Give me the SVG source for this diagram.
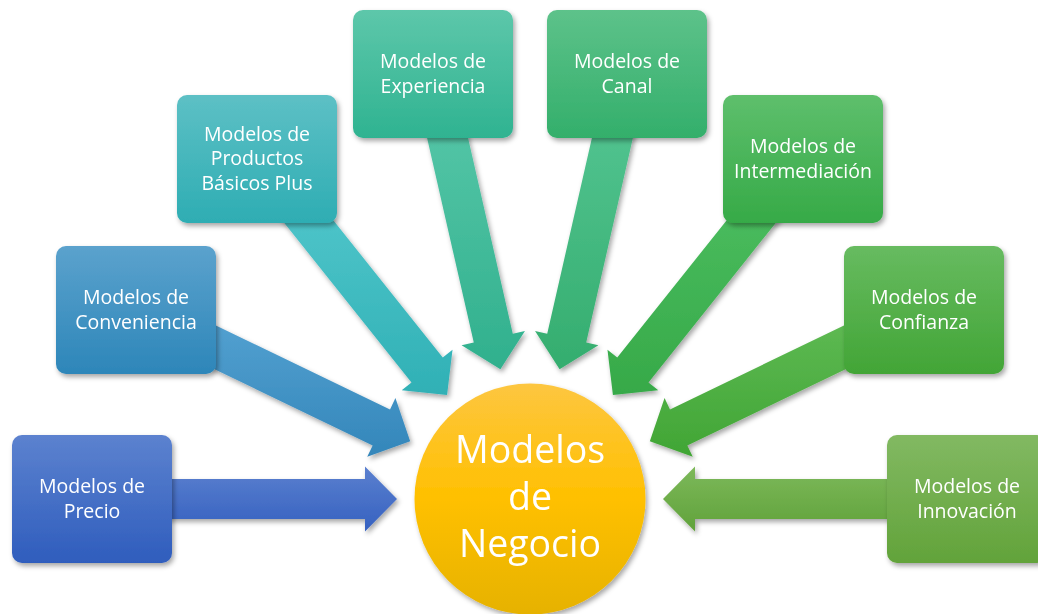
<svg xmlns="http://www.w3.org/2000/svg" width="1038" height="614" viewBox="0 0 1038 614">
<style>
.t{font-family:"Open Sans","Liberation Sans",sans-serif;font-size:19.5px;fill:#ffffff;text-anchor:middle}
.big{font-family:"Open Sans","Liberation Sans",sans-serif;font-size:37.5px;fill:#ffffff;text-anchor:middle}
</style>
<defs>
<filter id="sh" x="-20%" y="-20%" width="140%" height="140%">
<feDropShadow dx="2" dy="3" stdDeviation="2.5" flood-color="#000" flood-opacity="0.35"/>
</filter>
<polygon id="arr" points="0,0 -32,-32.5 -32,-20 -300,-20 -300,20 -32,20 -32,32.5"/>
<linearGradient id="b0" x1="0" y1="0" x2="0" y2="1"><stop offset="0" stop-color="#5c82cf"/><stop offset="1" stop-color="#2f5dbd"/></linearGradient>
<linearGradient id="b1" x1="0" y1="0" x2="0" y2="1"><stop offset="0" stop-color="#5ba2cd"/><stop offset="1" stop-color="#2d86b9"/></linearGradient>
<linearGradient id="b2" x1="0" y1="0" x2="0" y2="1"><stop offset="0" stop-color="#5dc0c5"/><stop offset="1" stop-color="#2eadb3"/></linearGradient>
<linearGradient id="b3" x1="0" y1="0" x2="0" y2="1"><stop offset="0" stop-color="#5dc7aa"/><stop offset="1" stop-color="#2fb391"/></linearGradient>
<linearGradient id="b4" x1="0" y1="0" x2="0" y2="1"><stop offset="0" stop-color="#5dc28a"/><stop offset="1" stop-color="#33af6b"/></linearGradient>
<linearGradient id="b5" x1="0" y1="0" x2="0" y2="1"><stop offset="0" stop-color="#5ebf6c"/><stop offset="1" stop-color="#36aa47"/></linearGradient>
<linearGradient id="b6" x1="0" y1="0" x2="0" y2="1"><stop offset="0" stop-color="#67bb60"/><stop offset="1" stop-color="#42a536"/></linearGradient>
<linearGradient id="b7" x1="0" y1="0" x2="0" y2="1"><stop offset="0" stop-color="#82b962"/><stop offset="1" stop-color="#62a33a"/></linearGradient>
<linearGradient id="a0" gradientUnits="userSpaceOnUse" x1="0" y1="-33" x2="0" y2="33"><stop offset="0" stop-color="#5b80cf"/><stop offset="1" stop-color="#3561c0"/></linearGradient>
<linearGradient id="a1" gradientUnits="userSpaceOnUse" x1="0" y1="-111" x2="0" y2="16" gradientTransform="rotate(-25.714)"><stop offset="0" stop-color="#519fcf"/><stop offset="1" stop-color="#3386ba"/></linearGradient>
<linearGradient id="a2" gradientUnits="userSpaceOnUse" x1="0" y1="-172" x2="0" y2="3" gradientTransform="rotate(-51.429)"><stop offset="0" stop-color="#4cc3c8"/><stop offset="1" stop-color="#2fb0b5"/></linearGradient>
<linearGradient id="a3" gradientUnits="userSpaceOnUse" x1="0" y1="-232" x2="0" y2="1" gradientTransform="rotate(-77.143)"><stop offset="0" stop-color="#52c4a5"/><stop offset="1" stop-color="#30b08d"/></linearGradient>
<linearGradient id="a4" gradientUnits="userSpaceOnUse" x1="0" y1="-232" x2="0" y2="1" gradientTransform="rotate(-102.857)"><stop offset="0" stop-color="#50c28e"/><stop offset="1" stop-color="#34ad6e"/></linearGradient>
<linearGradient id="a5" gradientUnits="userSpaceOnUse" x1="0" y1="-172" x2="0" y2="3" gradientTransform="rotate(-128.571)"><stop offset="0" stop-color="#48ba5c"/><stop offset="1" stop-color="#36a948"/></linearGradient>
<linearGradient id="a6" gradientUnits="userSpaceOnUse" x1="0" y1="-111" x2="0" y2="16" gradientTransform="rotate(-154.286)"><stop offset="0" stop-color="#5cb851"/><stop offset="1" stop-color="#40a534"/></linearGradient>
<linearGradient id="a7" gradientUnits="userSpaceOnUse" x1="0" y1="-33" x2="0" y2="33" gradientTransform="rotate(-180)"><stop offset="0" stop-color="#7db95b"/><stop offset="1" stop-color="#60a23a"/></linearGradient>
<linearGradient id="gc" x1="0" y1="0" x2="0" y2="1"><stop offset="0" stop-color="#fdc640"/><stop offset="0.5" stop-color="#ffc000"/><stop offset="1" stop-color="#e6b200"/></linearGradient>
</defs>
<rect width="1038" height="614" fill="#ffffff"/>

<g id="connectors">
<g filter="url(#sh)"><use href="#arr" fill="url(#a0)" transform="translate(397,499)"/></g>
<g filter="url(#sh)"><use href="#arr" fill="url(#a1)" transform="translate(410.17,441.29) rotate(25.714)"/></g>
<g filter="url(#sh)"><use href="#arr" fill="url(#a2)" transform="translate(447.08,395.02) rotate(51.429)"/></g>
<g filter="url(#sh)"><use href="#arr" fill="url(#a3)" transform="translate(500.4,369.33) rotate(77.143)"/></g>
<g filter="url(#sh)"><use href="#arr" fill="url(#a4)" transform="translate(559.6,369.33) rotate(102.857)"/></g>
<g filter="url(#sh)"><use href="#arr" fill="url(#a5)" transform="translate(612.92,395.02) rotate(128.571)"/></g>
<g filter="url(#sh)"><use href="#arr" fill="url(#a6)" transform="translate(649.83,441.29) rotate(154.286)"/></g>
<g filter="url(#sh)"><use href="#arr" fill="url(#a7)" transform="translate(663,499) rotate(180)"/></g>
</g>

<g id="precio" filter="url(#sh)">
<rect x="12" y="435" width="160" height="128" rx="10" fill="url(#b0)"/>
<text class="t" x="92" y="493">Modelos de</text>
<text class="t" x="92" y="517.5">Precio</text>
</g>
<g id="conveniencia" filter="url(#sh)">
<rect x="56" y="246" width="160" height="128" rx="10" fill="url(#b1)"/>
<text class="t" x="136" y="304">Modelos de</text>
<text class="t" x="136" y="328.5">Conveniencia</text>
</g>
<g id="productos" filter="url(#sh)">
<rect x="177" y="95" width="160" height="128" rx="10" fill="url(#b2)"/>
<text class="t" x="257" y="140.5">Modelos de</text>
<text class="t" x="257" y="165">Productos</text>
<text class="t" x="257" y="189.5">Básicos Plus</text>
</g>
<g id="experiencia" filter="url(#sh)">
<rect x="353" y="10" width="160" height="128" rx="10" fill="url(#b3)"/>
<text class="t" x="433" y="68">Modelos de</text>
<text class="t" x="433" y="92.5">Experiencia</text>
</g>
<g id="canal" filter="url(#sh)">
<rect x="547" y="10" width="160" height="128" rx="10" fill="url(#b4)"/>
<text class="t" x="627" y="68">Modelos de</text>
<text class="t" x="627" y="92.5">Canal</text>
</g>
<g id="intermediacion" filter="url(#sh)">
<rect x="723" y="95" width="160" height="128" rx="10" fill="url(#b5)"/>
<text class="t" x="803" y="153">Modelos de</text>
<text class="t" x="803" y="177.5">Intermediación</text>
</g>
<g id="confianza" filter="url(#sh)">
<rect x="844" y="246" width="160" height="128" rx="10" fill="url(#b6)"/>
<text class="t" x="924" y="304">Modelos de</text>
<text class="t" x="924" y="328.5">Confianza</text>
</g>
<g id="innovacion" filter="url(#sh)">
<rect x="887" y="435" width="160" height="128" rx="10" fill="url(#b7)"/>
<text class="t" x="967" y="493">Modelos de</text>
<text class="t" x="967" y="517.5">Innovación</text>
</g>
<g id="negocio" filter="url(#sh)">
<circle cx="530" cy="499" r="115.5" fill="url(#gc)"/>
<text class="big" x="530" y="463">Modelos</text>
<text class="big" x="530" y="510">de</text>
<text class="big" x="530" y="557">Negocio</text>
</g>
</svg>
